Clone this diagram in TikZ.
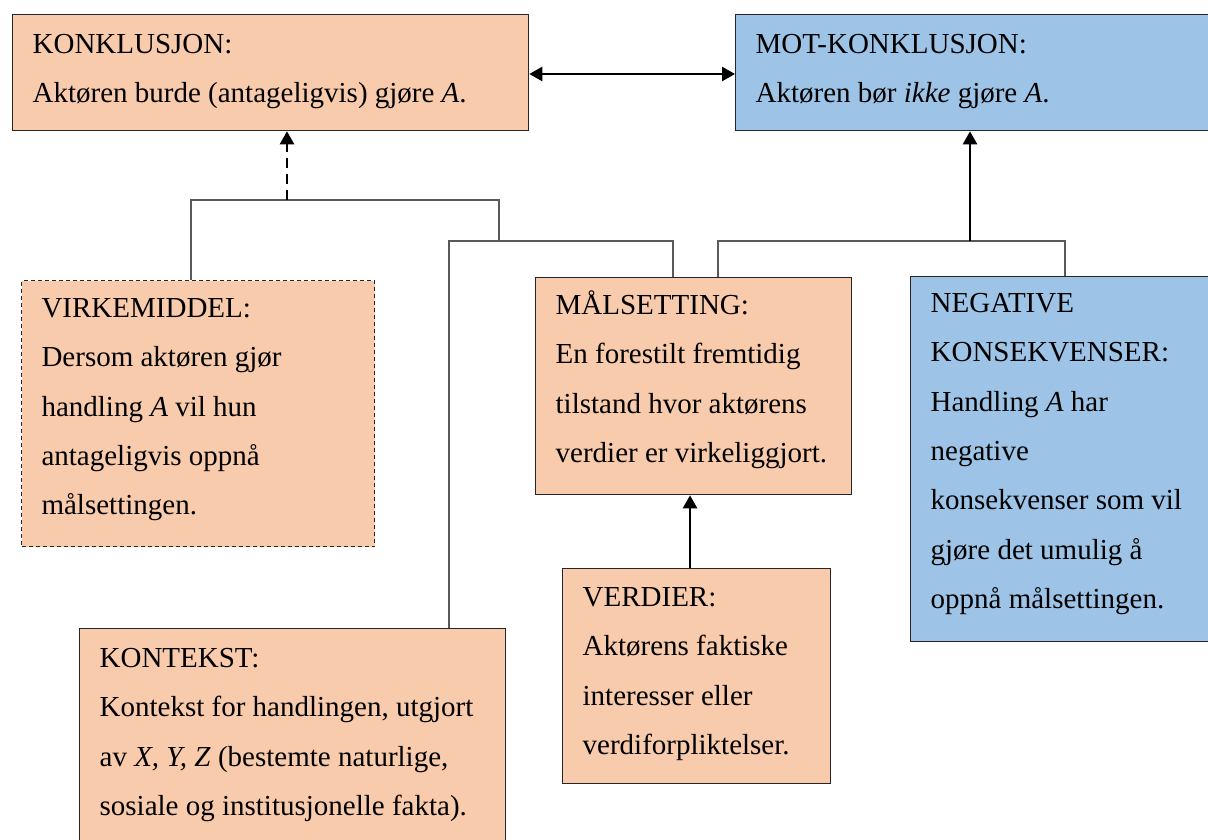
\documentclass[tikz,border=0pt]{standalone}
\usepackage{fontspec}
\setmainfont{Liberation Serif}
\usetikzlibrary{arrows.meta}

\definecolor{orng}{HTML}{F8CBAD}
\definecolor{blu}{HTML}{9DC3E6}
\definecolor{edge}{HTML}{262626}
\definecolor{wirec}{HTML}{595959}

% box body: fixed width/height, text starts at the top with a left indent
\newcommand{\bxt}[3]{\parbox[c][#2pt][t]{#1pt}{\raggedright\leftskip=20pt
  \fontsize{29}{49.3}\selectfont #3}}

\tikzset{
  box/.style={draw=edge, line width=1.3pt, inner sep=0pt, anchor=north west},
  obox/.style={box, fill=orng},
  bbox/.style={box, fill=blu},
  wire/.style={draw=wirec, line width=1.5pt},
  arr/.style={draw=black, line width=2.5pt, -{Triangle[length=13pt,width=14pt]}},
  darr/.style={draw=black, line width=2.5pt, {Triangle[length=13pt,width=14pt]}-{Triangle[length=13pt,width=14pt]}}
}

\begin{document}
\begin{tikzpicture}[x=1pt,y=-1pt]
\useasboundingbox (0,0) rectangle (1208,839);
\clip (0,0) rectangle (1208,839);
\fill[white] (0,0) rectangle (1208,839);

% boxes
\node[obox] (kon) at (12,14) {\bxt{516}{116}{\rule{0pt}{39pt}KONKLUSJON:\\
  Aktøren burde (antageligvis) gjøre \textit{A}.}};
\node[bbox] (mot) at (735,14) {\bxt{520}{116}{\rule{0pt}{39pt}MOT-KONKLUSJON:\\
  Aktøren bør \textit{ikke} gjøre \textit{A}.}};
\node[obox, dash pattern=on 4pt off 3pt, line width=1.1pt] (virk) at (21,280) {\bxt{353}{266}{\rule{0pt}{37pt}VIRKEMIDDEL:\\
  Dersom aktøren gjør\\ handling \textit{A} vil hun\\ antageligvis oppnå\\ målsettingen.}};
\node[obox] (mal) at (535,277) {\bxt{316}{217}{\rule{0pt}{37pt}MÅLSETTING:\\
  En forestilt fremtidig\\ tilstand hvor aktørens\\ verdier er virkeliggjort.}};
\node[bbox] (neg) at (910,276) {\bxt{330}{365}{\rule{0pt}{36pt}NEGATIVE\\ KONSEKVENSER:\\
  Handling \textit{A} har\\ negative\\ konsekvenser som vil\\ gjøre det umulig å\\ oppnå målsettingen.}};
\node[obox] (ver) at (562,568) {\bxt{268}{215}{\rule{0pt}{38pt}VERDIER:\\
  Aktørens faktiske\\ interesser eller\\ verdiforpliktelser.}};
\node[obox] (ktx) at (79,628) {\bxt{426}{240}{\rule{0pt}{39pt}KONTEKST:\\
  Kontekst for handlingen, utgjort\\ av \textit{X, Y, Z} (bestemte naturlige,\\ sosiale og institusjonelle fakta).}};

% junction points of the brackets
\coordinate (L1) at (191,200);
\coordinate (R1) at (499,200);
\coordinate (L2) at (449,241);
\coordinate (R2) at (673,241);
\coordinate (L3) at (718,241);
\coordinate (R3) at (1065,241);
\coordinate (A1) at (287,200);
\coordinate (A2) at (970,241);
\coordinate (A3) at (690,568);
\coordinate (D) at (0,74);

% brackets
\draw[wire] (virk.north -| L1) -- (L1) -- (R1) -- (R1 |- L2);
\draw[wire] (ktx.north -| L2) -- (L2) -- (R2) -- (mal.north -| R2);
\draw[wire] (mal.north -| L3) -- (L3) -- (R3) -- (neg.north -| R3);

% arrows
\draw[arr, dash pattern=on 10pt off 6pt] (A1) -- (kon.south -| A1);
\draw[arr] (A2) -- (mot.south -| A2);
\draw[arr] (ver.north -| A3) -- (mal.south -| A3);
\draw[darr] (kon.east |- D) -- (mot.west |- D);
\end{tikzpicture}
\end{document}
